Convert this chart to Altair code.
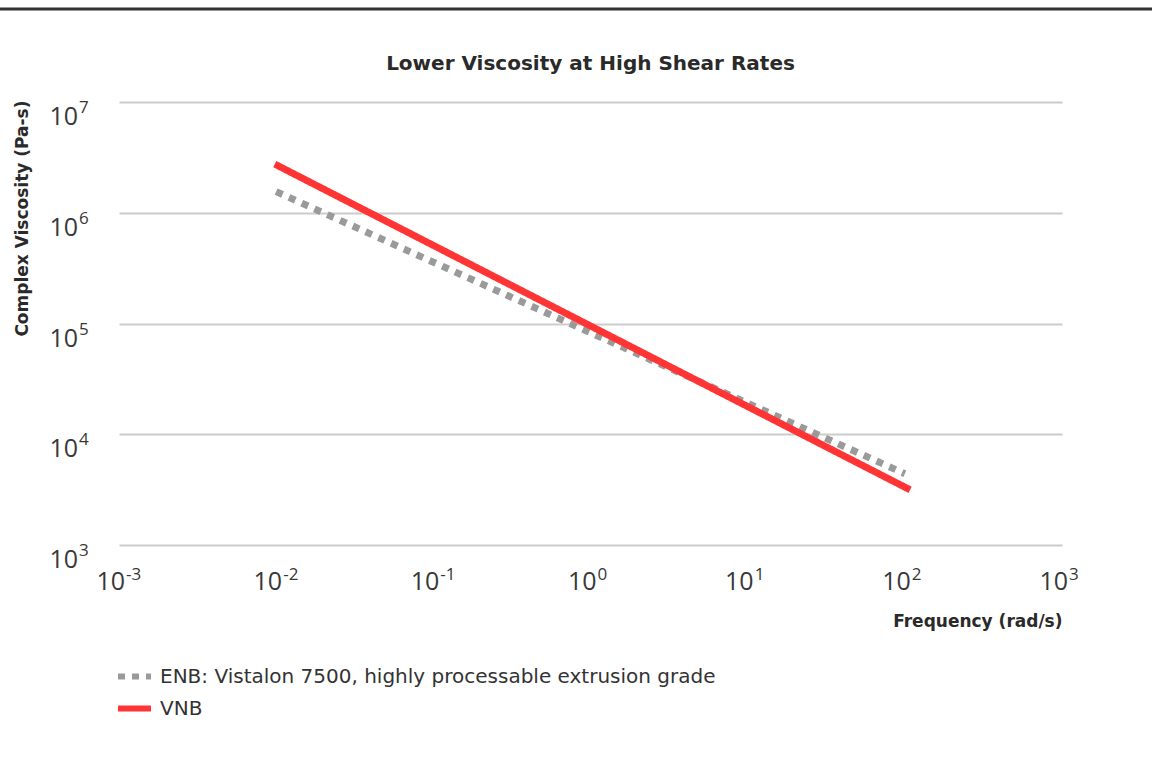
import altair as alt
import pandas as pd

# Data (log-log, straight lines)
series_names = ["ENB: Vistalon 7500, highly processable extrusion grade", "VNB"]
enb_freq = [0.01, 100]
enb_visc = [1.55e6, 4.4e3]
vnb_freq = [0.0098, 108]
vnb_visc = [2.75e6, 3.15e3]
x_ticks = [1e-3, 1e-2, 1e-1, 1e0, 1e1, 1e2, 1e3]
x_exps = ["-3", "-2", "-1", "0", "1", "2", "3"]
y_ticks = [1e3, 1e4, 1e5, 1e6, 1e7]
y_exps = ["3", "4", "5", "6", "7"]
colors = ["#9a9a9a", "#ff3434"]
chart_title = "Lower Viscosity at High Shear Rates"
x_title = "Frequency (rad/s)"
y_title = "Complex Viscosity (Pa-s)"

rows = []
for f, v in zip(enb_freq, enb_visc):
    rows.append({"series": series_names[0], "freq": f, "visc": v})
for f, v in zip(vnb_freq, vnb_visc):
    rows.append({"series": series_names[1], "freq": f, "visc": v})
df = pd.DataFrame(rows)
xt = pd.DataFrame({"freq": x_ticks, "base": ["10"] * len(x_ticks), "exp": x_exps})
yt = pd.DataFrame({"visc": y_ticks, "base": ["10"] * len(y_ticks), "exp": y_exps})

TFONT = "DejaVu Sans"
NFONT = "Open Sans"
W, H = 943, 443

xscale = alt.Scale(type="log", domain=[1e-3, 1e3], nice=False)
yscale = alt.Scale(type="log", domain=[1e3, 1e7], nice=False)

xaxis = alt.Axis(values=x_ticks, labels=False, grid=False,
                 domain=False, ticks=False,
                 title=x_title, titleX=W, titleY=76,
                 titleAlign="right", titleBaseline="middle",
                 titleFont=TFONT, titleFontSize=17, titleFontWeight="bold",
                 titleColor="#2a2a2a")
yaxis = alt.Axis(values=y_ticks, labels=False, grid=True,
                 gridColor="#cccccc", gridWidth=2,
                 domain=False, ticks=False,
                 title=y_title, titleX=-97, titleY=-2, titleAngle=-90,
                 titleAlign="right", titleBaseline="middle",
                 titleFont=TFONT, titleFontSize=17, titleFontWeight="bold",
                 titleColor="#2a2a2a")

legend_kw = dict(title=None, orient="none", legendX=-4, legendY=555,
                 symbolType="stroke", symbolSize=1089,
                 symbolStrokeWidth=6, labelFontSize=20,
                 labelFont=TFONT, labelColor="#333333",
                 labelOffset=6, rowPadding=0, labelLimit=800)

lines = alt.Chart(df).mark_line(strokeWidth=7, strokeCap="butt").encode(
    x=alt.X("freq:Q", scale=xscale, axis=xaxis, title=x_title),
    y=alt.Y("visc:Q", scale=yscale, axis=yaxis, title=y_title),
    color=alt.Color("series:N",
                    scale=alt.Scale(domain=series_names, range=colors),
                    legend=alt.Legend(**legend_kw)),
    strokeDash=alt.StrokeDash("series:N",
                              scale=alt.Scale(domain=series_names, range=[[7, 7], [1, 0]]),
                              legend=alt.Legend(**legend_kw)),
)

lab_style = dict(font=NFONT, fontWeight=400, color="#383838", baseline="alphabetic")

x_base = alt.Chart(xt).mark_text(fontSize=25, align="right", dx=6, **lab_style).encode(
    x=alt.X("freq:Q", scale=xscale, axis=xaxis, title=x_title),
    y=alt.value(H + 45), text="base:N")
x_exp = alt.Chart(xt).mark_text(fontSize=17, align="left", dx=7, **lab_style).encode(
    x=alt.X("freq:Q", scale=xscale, axis=xaxis, title=x_title),
    y=alt.value(H + 35), text="exp:N")
y_base = alt.Chart(yt).mark_text(fontSize=25, align="right", dy=23, **lab_style).encode(
    y=alt.Y("visc:Q", scale=yscale, axis=yaxis, title=y_title),
    x=alt.value(-41), text="base:N")
y_exp = alt.Chart(yt).mark_text(fontSize=17, align="left", dy=11, **lab_style).encode(
    y=alt.Y("visc:Q", scale=yscale, axis=yaxis, title=y_title),
    x=alt.value(-40), text="exp:N")

topline = alt.Chart(pd.DataFrame({"a": [0]})).mark_rule(color="#333333", strokeWidth=3).encode(
    x=alt.value(-119), x2=alt.value(1033), y=alt.value(-93)
)

title_text = alt.Chart(pd.DataFrame({"t": [chart_title]})).mark_text(
    font=TFONT, fontSize=20, fontWeight="bold", color="#2a2a2a",
    align="center", baseline="middle"
).encode(x=alt.value(471.5), y=alt.value(-38), text="t:N")

chart = alt.layer(lines, x_base, x_exp, y_base, y_exp, topline, title_text).properties(
    width=W, height=H,
    padding={"left": 119, "top": 102, "right": 90, "bottom": 237},
    autosize=alt.AutoSizeParams(type="none"),
).configure_view(stroke=None)

chart.save("out.html", embed_options={"renderer": "svg", "actions": False})
